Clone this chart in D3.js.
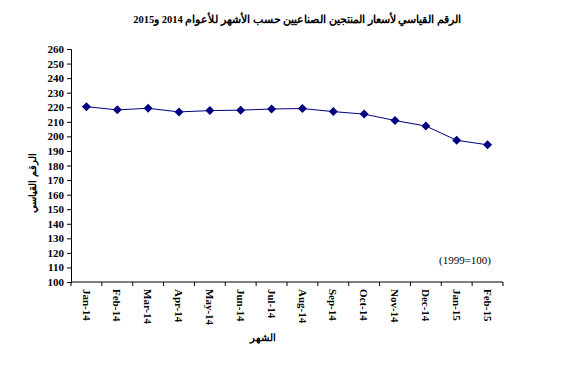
<!DOCTYPE html>
<html><head><meta charset="utf-8">
<script src="https://cdn.jsdelivr.net/npm/d3@7"></script>
<style>body{margin:0;background:#fff}svg{display:block}</style>
</head><body>
<script>
const categories = ["Jan-14","Feb-14","Mar-14","Apr-14","May-14","Jun-14","Jul-14","Aug-14","Sep-14","Oct-14","Nov-14","Dec-14","Jan-15","Feb-15"];
const values = [220.4,218.2,219.3,216.8,217.7,218.0,218.8,219.1,217.0,215.3,210.9,207.1,197.3,194.2];
const yTicks = [100,110,120,130,140,150,160,170,180,190,200,210,220,230,240,250,260];
const title = "الرقم القياسي لأسعار المنتجين الصناعيين حسب الأشهر للأعوام 2014 و2015";
const yTitle = "الرقم القياسي";
const xTitle = "الشهر";
const note = "(1999=100)";

(function(){
const W = 566, H = 369;
const svg = d3.select("body").append("svg").attr("width", W).attr("height", H);
const mL = 71, mR = 503, mT = 49, mB = 282;
const font = "'Liberation Serif', 'Times New Roman', serif";

const x = d3.scaleBand().domain(categories).range([mL, mR]);
const y = d3.scaleLinear().domain([100, 260]).range([mB, mT]);

svg.append("text").attr("x", 297).attr("y", 23).attr("text-anchor", "middle")
  .attr("font-family", font).attr("font-weight", "bold").attr("font-size", 10.5)
  .attr("direction", "rtl").text(title);

const ya = svg.append("g").attr("transform", `translate(${mL},0)`)
  .call(d3.axisLeft(y).tickValues(yTicks).tickSize(4).tickPadding(3));
ya.selectAll("text").attr("font-family", font).attr("font-weight", "bold").attr("font-size", 11).attr("fill", "#000");
ya.selectAll("line,path").attr("stroke", "#000");

const xa = svg.append("g").attr("transform", `translate(0,${mB})`);
xa.append("line").attr("x1", mL).attr("x2", mR).attr("y1", 0).attr("y2", 0).attr("stroke", "#000");
const bounds = categories.map(c => x(c)).concat([x(categories[categories.length-1]) + x.bandwidth()]);
xa.selectAll("line.t").data(bounds).enter().append("line").attr("class","t")
  .attr("x1", d => d).attr("x2", d => d).attr("y1", 0).attr("y2", 4).attr("stroke", "#000");
xa.selectAll("text").data(categories).enter().append("text")
  .attr("transform", d => `translate(${x(d) + x.bandwidth()/2},7) rotate(90)`)
  .attr("dy", "0.35em").attr("text-anchor", "start")
  .attr("font-family", font).attr("font-weight", "bold").attr("font-size", 11)
  .text(d => d);

svg.append("text").attr("transform", `translate(36,183) rotate(-90)`)
  .attr("text-anchor", "middle").attr("font-family", font).attr("font-weight", "bold")
  .attr("font-size", 9.5).attr("direction", "rtl").text(yTitle);

svg.append("text").attr("x", 263).attr("y", 341).attr("text-anchor", "middle")
  .attr("font-family", font).attr("font-weight", "bold").attr("font-size", 9.5)
  .attr("direction", "rtl").text(xTitle);

svg.append("text").attr("x", 465).attr("y", 264).attr("text-anchor", "middle")
  .attr("font-family", font).attr("font-size", 11).text(note);

const cx = i => x(categories[i]) + x.bandwidth()/2;
const line = d3.line().x((d, i) => cx(i)).y(d => y(d));
svg.append("path").datum(values).attr("d", line).attr("fill", "none")
  .attr("stroke", "#000080").attr("stroke-width", 1);
svg.selectAll("path.m").data(values).enter().append("path").attr("class", "m")
  .attr("transform", (d, i) => `translate(${cx(i)},${y(d)})`)
  .attr("d", "M0,-4.5L4.5,0L0,4.5L-4.5,0Z").attr("fill", "#000080");
})();
</script>
</body></html>
